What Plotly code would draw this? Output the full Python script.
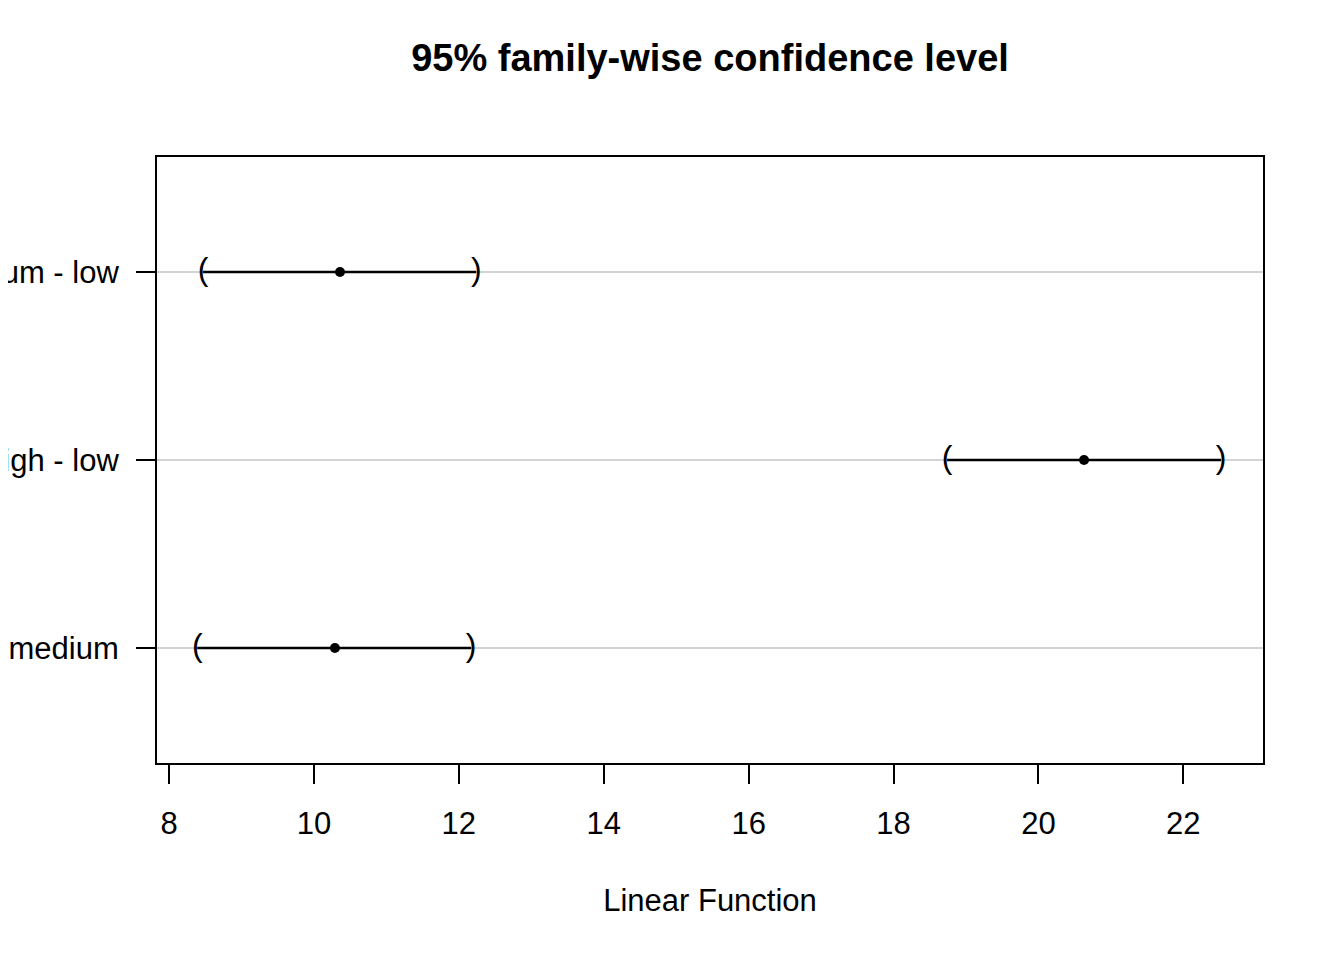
import plotly.graph_objects as go

comparisons = ["high - medium", "high - low", "medium - low"]
positions = [1, 2, 3]
estimate = [10.29, 20.63, 10.36]
lower = [8.39, 18.74, 8.47]
upper = [12.17, 22.52, 12.24]
x_ticks = [8, 10, 12, 14, 16, 18, 20, 22]

FONT = "Liberation Sans, Arial, sans-serif"
fig = go.Figure()

# interval lines
for p, lo, hi in zip(positions, lower, upper):
    fig.add_trace(go.Scatter(x=[lo, hi], y=[p, p], mode="lines",
                             line=dict(color="black", width=2.5),
                             showlegend=False, hoverinfo="skip"))
# parentheses
fig.add_trace(go.Scatter(x=lower, y=positions, mode="text", text=["("] * 3,
                         textposition="middle center",
                         textfont=dict(family=FONT, size=32, color="black"),
                         showlegend=False, hoverinfo="skip"))
fig.add_trace(go.Scatter(x=upper, y=positions, mode="text", text=[")"] * 3,
                         textposition="middle center",
                         textfont=dict(family=FONT, size=32, color="black"),
                         showlegend=False, hoverinfo="skip"))
# estimates
fig.add_trace(go.Scatter(x=estimate, y=positions, mode="markers",
                         marker=dict(color="black", size=10),
                         showlegend=False))

fig.update_layout(
    width=1344, height=960,
    margin=dict(l=149, r=89, t=149, b=205, autoexpand=False),
    paper_bgcolor="white", plot_bgcolor="white",
    font=dict(family=FONT, size=32, color="black"),
    title=dict(text="<b>95% family-wise confidence level</b>",
               x=702 / 1344, xref="container", xanchor="center",
               y=1 - 50 / 960, yref="container", yanchor="middle",
               automargin=False,
               font=dict(family=FONT, size=38, color="black")),
)
fig.update_xaxes(
    range=[7.834, 23.10], tickvals=x_ticks, ticktext=[str(v) for v in x_ticks],
    showgrid=False, zeroline=False, automargin=False,
    showline=True, linecolor="black", linewidth=2, mirror=True,
    ticks="outside", ticklen=19, tickwidth=2, tickcolor="black",
    ticklabelstandoff=13,
    tickfont=dict(family=FONT, size=31, color="black"),
    title=dict(text="Linear Function", standoff=49,
               font=dict(family=FONT, size=31, color="black")),
)
fig.update_yaxes(
    range=[0.388, 3.612], tickvals=positions, ticktext=comparisons,
    showgrid=True, gridcolor="#D3D3D3", gridwidth=2, zeroline=False,
    automargin=False,
    showline=True, linecolor="black", linewidth=2, mirror=True,
    ticks="outside", ticklen=19, tickwidth=2, tickcolor="black",
    ticklabelstandoff=11,
    tickfont=dict(family=FONT, size=31, color="black"),
)

fig.write_html("out.html")
